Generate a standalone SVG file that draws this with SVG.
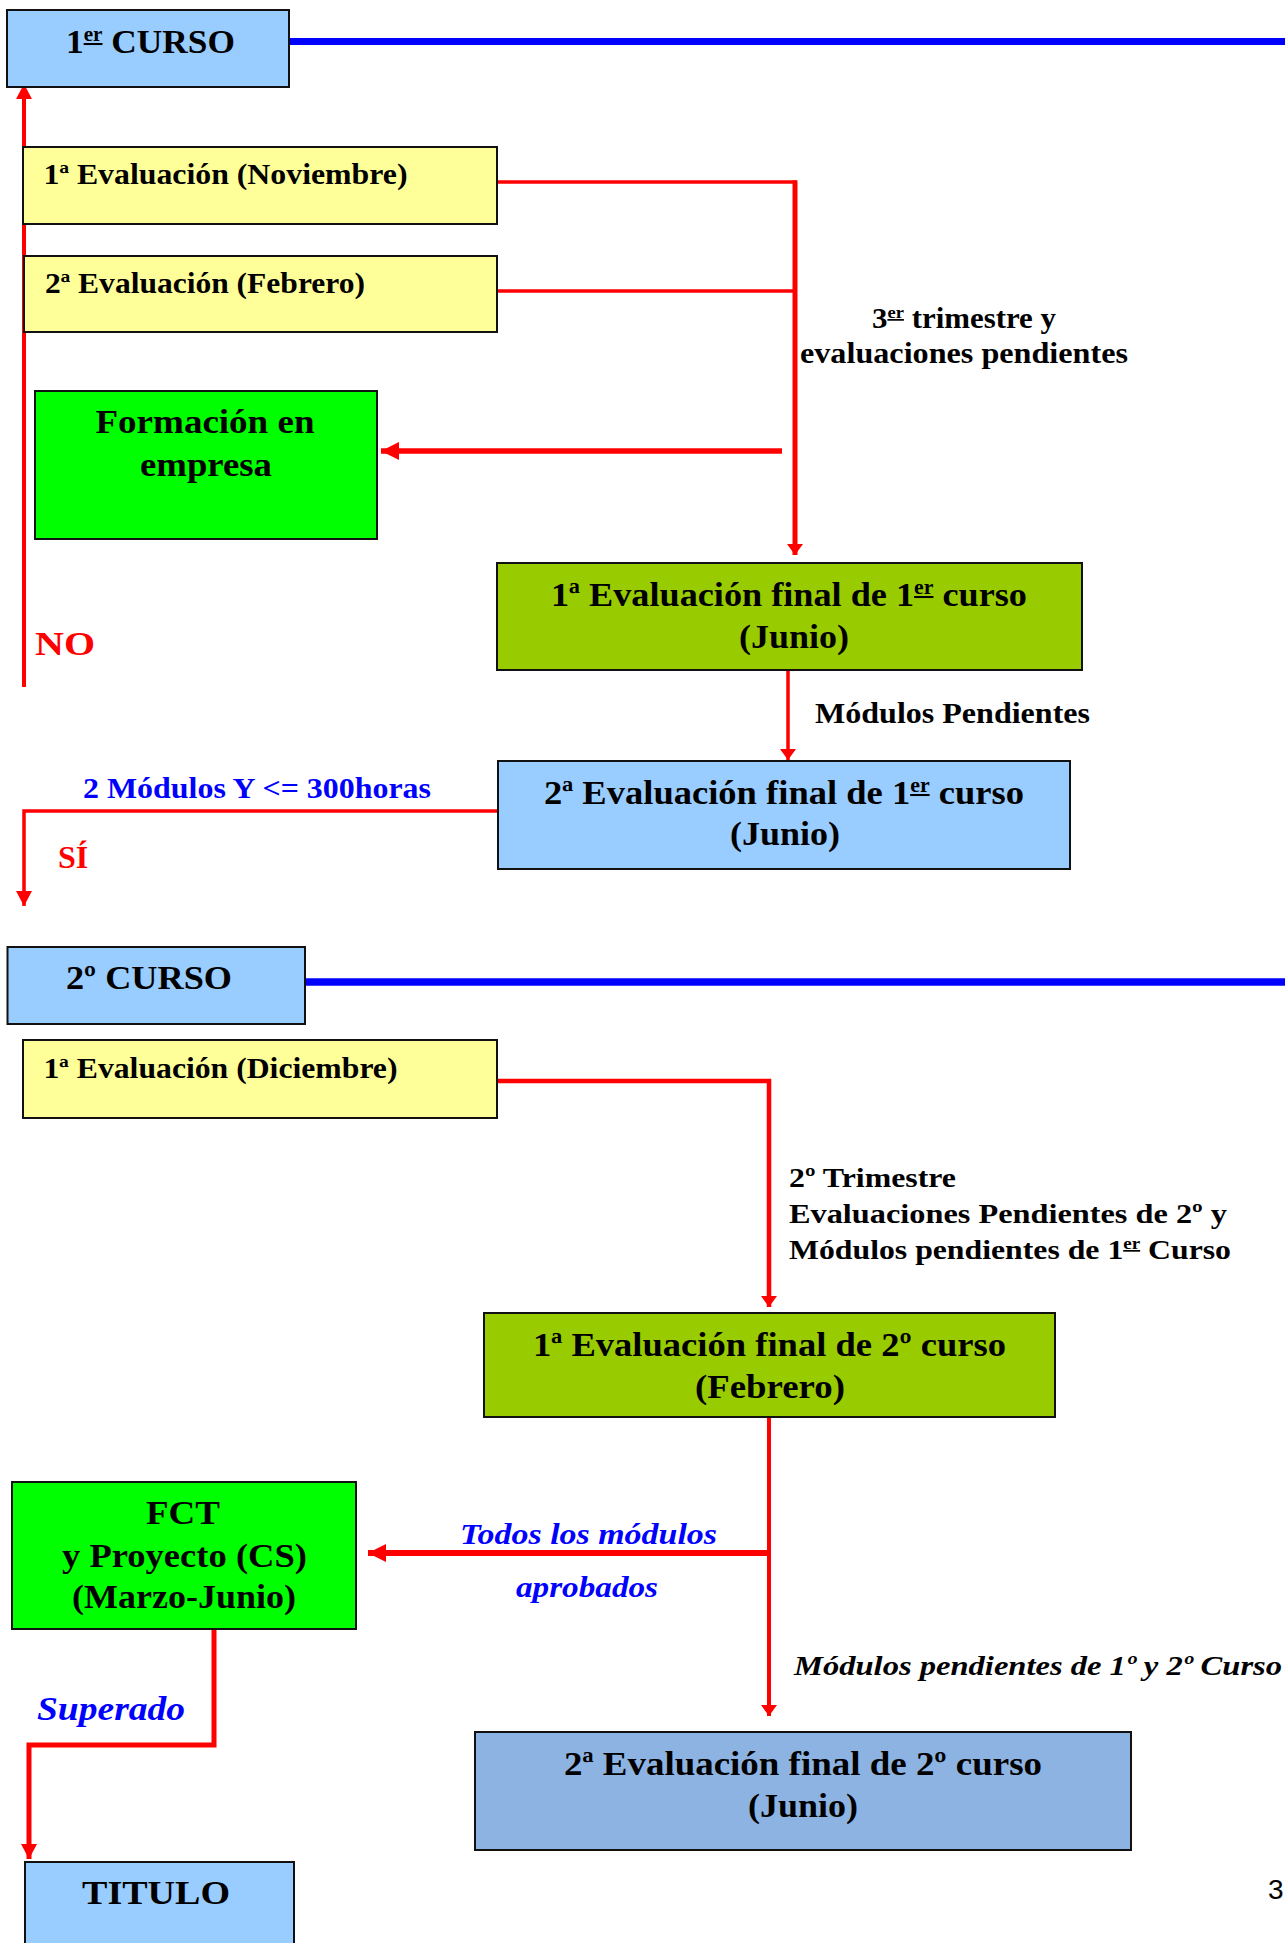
<svg xmlns="http://www.w3.org/2000/svg" width="1285" height="1943" viewBox="0 0 1285 1943">
<style>
.box{stroke:#111;stroke-width:2}
.blue{fill:#99CCFF}
.yel{fill:#FFFF99}
.grn{fill:#00FF00}
.olv{fill:#99CC00}
.blu2{fill:#8DB3E2}
.t{font-family:"Liberation Serif","Times New Roman",serif;font-weight:bold;fill:#000}
.big{font-size:34px}
.med{font-size:29px}
.red{fill:#FF0000}
.bl{fill:#0000FF}
.it{font-style:italic}
.mid{text-anchor:middle}
.rl{fill:none;stroke:#FF0000}
.bline{fill:none;stroke:#0000FF}
.sup{font-size:60%;text-decoration:underline}
</style>
<defs>
<marker id="aBig" markerUnits="userSpaceOnUse" markerWidth="18" markerHeight="18" refX="18" refY="9" orient="auto"><path d="M0,0 L18,9 L0,18 z" fill="#FF0000"/></marker>
<marker id="aMed" markerUnits="userSpaceOnUse" markerWidth="15" markerHeight="16" refX="15" refY="8" orient="auto"><path d="M0,0 L15,8 L0,16 z" fill="#FF0000"/></marker>
<marker id="aSm" markerUnits="userSpaceOnUse" markerWidth="11" markerHeight="16" refX="11" refY="8" orient="auto"><path d="M0,0 L11,8 L0,16 z" fill="#FF0000"/></marker>
</defs>

<g id="connectors">
<path class="bline" d="M289,41.5 H1285" stroke-width="7"/>
<path class="bline" d="M305,982 H1285" stroke-width="7.5"/>
<path class="rl" d="M24,687 V84" stroke-width="4" marker-end="url(#aMed)"/>
<path class="rl" d="M497,182 H797" stroke-width="3.5"/>
<path class="rl" d="M497,291 H795" stroke-width="3.5"/>
<path class="rl" d="M795,180.5 V555" stroke-width="5" marker-end="url(#aSm)"/>
<path class="rl" d="M782,451 H381" stroke-width="5.5" marker-end="url(#aBig)"/>
<path class="rl" d="M788,671 V760" stroke-width="3.5" marker-end="url(#aSm)"/>
<path class="rl" d="M497,811 H24 V906" stroke-width="3.5" marker-end="url(#aMed)"/>
<path class="rl" d="M497,1081 H769 V1307" stroke-width="4.5" marker-end="url(#aSm)"/>
<path class="rl" d="M769,1417 V1716" stroke-width="4" marker-end="url(#aSm)"/>
<path class="rl" d="M769,1553 H368" stroke-width="6" marker-end="url(#aBig)"/>
<path class="rl" d="M214,1629 V1745 H29 V1859" stroke-width="5" marker-end="url(#aMed)"/>
</g>

<g id="curso1">
<rect class="box blue" x="7" y="10" width="282" height="77"/>
<text class="t big" x="66" y="53" textLength="169" lengthAdjust="spacingAndGlyphs">1<tspan class="sup" dy="-12">er</tspan><tspan dy="12"> CURSO</tspan></text>
</g>

<g id="eval1nov">
<rect class="box yel" x="23" y="147" width="474" height="77"/>
<text class="t med" x="43.5" y="184" textLength="364" lengthAdjust="spacingAndGlyphs">1ª Evaluación (Noviembre)</text>
</g>

<g id="eval2feb">
<rect class="box yel" x="24" y="256" width="473" height="76"/>
<text class="t med" x="45" y="293" textLength="320" lengthAdjust="spacingAndGlyphs">2ª Evaluación (Febrero)</text>
</g>

<g id="lbl-3trim">
<text class="t med" x="872" y="328" textLength="184" lengthAdjust="spacingAndGlyphs">3<tspan class="sup" dy="-10">er</tspan><tspan dy="10"> trimestre y</tspan></text>
<text class="t med" x="800" y="363" textLength="328" lengthAdjust="spacingAndGlyphs">evaluaciones pendientes</text>
</g>

<g id="formacion">
<rect class="box grn" x="35" y="391" width="342" height="148"/>
<text class="t big mid" x="205" y="433" textLength="219" lengthAdjust="spacingAndGlyphs">Formación en</text>
<text class="t big mid" x="206" y="476" textLength="132" lengthAdjust="spacingAndGlyphs">empresa</text>
</g>

<g id="final1-1">
<rect class="box olv" x="497" y="563" width="585" height="107"/>
<text class="t big" x="551" y="606" textLength="476" lengthAdjust="spacingAndGlyphs">1ª Evaluación final de 1<tspan class="sup" dy="-12">er</tspan><tspan dy="12"> curso</tspan></text>
<text class="t big mid" x="794" y="648" textLength="110" lengthAdjust="spacingAndGlyphs">(Junio)</text>
</g>

<g id="lbl-modpend">
<text class="t med" x="815" y="723" textLength="275" lengthAdjust="spacingAndGlyphs">Módulos Pendientes</text>
</g>

<g id="final2-1">
<rect class="box blue" x="498" y="761" width="572" height="108"/>
<text class="t big" x="544" y="804" textLength="480" lengthAdjust="spacingAndGlyphs">2ª Evaluación final de 1<tspan class="sup" dy="-12">er</tspan><tspan dy="12"> curso</tspan></text>
<text class="t big mid" x="785" y="845" textLength="110" lengthAdjust="spacingAndGlyphs">(Junio)</text>
</g>

<g id="lbl-2mod">
<text class="t med bl" x="83" y="798" textLength="348" lengthAdjust="spacingAndGlyphs">2 Módulos Y &lt;= 300horas</text>
</g>
<g id="lbl-si"><text class="t red" x="58" y="868" font-size="32">SÍ</text></g>
<g id="lbl-no"><text class="t red" x="35" y="655" font-size="33" textLength="60" lengthAdjust="spacingAndGlyphs">NO</text></g>

<g id="curso2">
<rect class="box blue" x="7.5" y="947" width="297.5" height="77"/>
<text class="t big" x="66" y="989" textLength="166" lengthAdjust="spacingAndGlyphs">2º CURSO</text>
</g>

<g id="eval1dic">
<rect class="box yel" x="23" y="1040" width="474" height="78"/>
<text class="t med" x="43.5" y="1078" textLength="354" lengthAdjust="spacingAndGlyphs">1ª Evaluación (Diciembre)</text>
</g>

<g id="lbl-2trim">
<text class="t" font-size="28" x="789" y="1187" textLength="167" lengthAdjust="spacingAndGlyphs">2º Trimestre</text>
<text class="t" font-size="28" x="789" y="1223" textLength="438" lengthAdjust="spacingAndGlyphs">Evaluaciones Pendientes de 2º y</text>
<text class="t" font-size="28" x="789" y="1259" textLength="442" lengthAdjust="spacingAndGlyphs">Módulos pendientes de 1<tspan class="sup" dy="-10">er</tspan><tspan dy="10"> Curso</tspan></text>
</g>

<g id="final1-2">
<rect class="box olv" x="484" y="1313" width="571" height="104"/>
<text class="t big" x="533" y="1356" textLength="473" lengthAdjust="spacingAndGlyphs">1ª Evaluación final de 2º curso</text>
<text class="t big mid" x="770" y="1398" textLength="150" lengthAdjust="spacingAndGlyphs">(Febrero)</text>
</g>

<g id="lbl-todos">
<text class="t it bl" font-size="29" x="460" y="1544" textLength="257" lengthAdjust="spacingAndGlyphs">Todos los módulos</text>
<text class="t it bl" font-size="29" x="516" y="1597" textLength="142" lengthAdjust="spacingAndGlyphs">aprobados</text>
</g>

<g id="fct">
<rect class="box grn" x="12" y="1482" width="344" height="147"/>
<text class="t big mid" x="183" y="1524" textLength="74" lengthAdjust="spacingAndGlyphs">FCT</text>
<text class="t big mid" x="184.5" y="1567" textLength="245" lengthAdjust="spacingAndGlyphs">y Proyecto (CS)</text>
<text class="t big mid" x="184" y="1608" textLength="224" lengthAdjust="spacingAndGlyphs">(Marzo-Junio)</text>
</g>

<g id="lbl-superado">
<text class="t it bl" font-size="34" x="37" y="1720" textLength="148" lengthAdjust="spacingAndGlyphs">Superado</text>
</g>

<g id="lbl-modpend12">
<text class="t it" font-size="28" x="794" y="1675" textLength="488" lengthAdjust="spacingAndGlyphs">Módulos pendientes de 1º y 2º Curso</text>
</g>

<g id="final2-2">
<rect class="box blu2" x="475" y="1732" width="656" height="118"/>
<text class="t big" x="564" y="1775" textLength="478" lengthAdjust="spacingAndGlyphs">2ª Evaluación final de 2º curso</text>
<text class="t big mid" x="803" y="1817" textLength="110" lengthAdjust="spacingAndGlyphs">(Junio)</text>
</g>

<g id="titulo">
<rect class="box blue" x="25" y="1862" width="269" height="90"/>
<text class="t big" x="82" y="1904" textLength="148" lengthAdjust="spacingAndGlyphs">TITULO</text>
</g>

<g id="pagenum">
<text x="1268" y="1899" font-family="Liberation Sans, Arial, sans-serif" font-size="28" fill="#000">3</text>
</g>
</svg>
